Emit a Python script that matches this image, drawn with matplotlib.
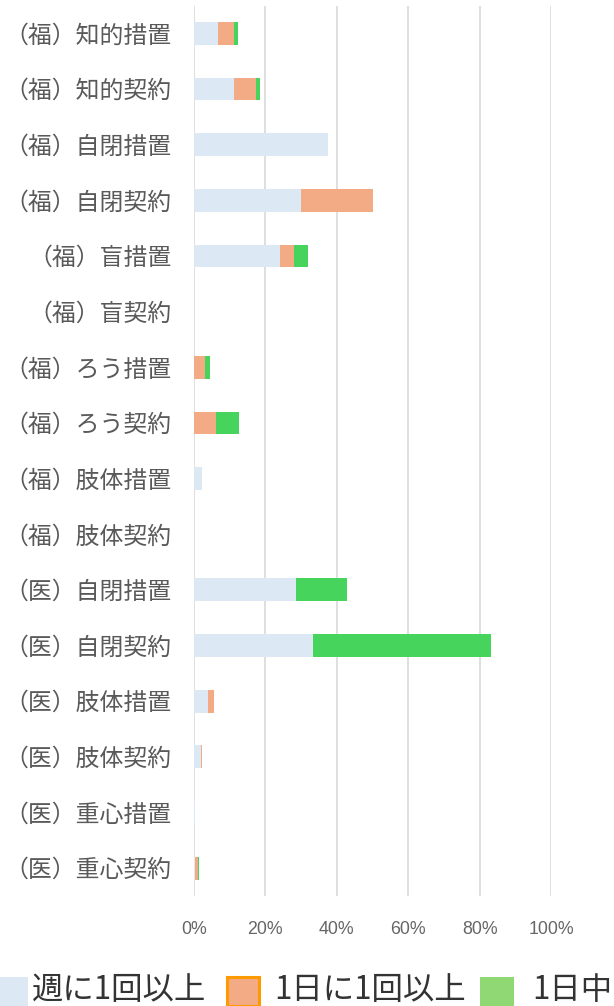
import matplotlib
matplotlib.use("Agg")
import matplotlib.pyplot as plt
from matplotlib.patches import Rectangle
import numpy as np

plt.rcParams['font.family'] = ['Noto Sans CJK JP', 'DejaVu Sans']

categories = [
    "（福）知的措置", "（福）知的契約", "（福）自閉措置", "（福）自閉契約",
    "（福）盲措置", "（福）盲契約", "（福）ろう措置", "（福）ろう契約",
    "（福）肢体措置", "（福）肢体契約", "（医）自閉措置", "（医）自閉契約",
    "（医）肢体措置", "（医）肢体契約", "（医）重心措置", "（医）重心契約",
]
series_names = ["週に1回以上", "1日に1回以上", "1日中"]
weekly = [6.8, 11.2, 37.4, 30.0, 24.0, 0, 0, 0, 2.3, 0, 28.5, 33.3, 3.9, 2.0, 0.2, 0.2]
daily = [4.5, 6.2, 0, 20.0, 4.0, 0, 3.1, 6.2, 0, 0, 0, 0, 1.7, 0.3, 0, 0.8]
allday = [1.1, 1.1, 0, 0, 4.0, 0, 1.3, 6.3, 0, 0, 14.3, 50.0, 0, 0, 0.2, 0.3]
x_ticks = [0, 20, 40, 60, 80, 100]
x_ticklabels = ["0%", "20%", "40%", "60%", "80%", "100%"]

bar_colors = ["#dce9f5", "#f2ab84", "#46d45c"]
legend_fill = ["#dce9f5", "#f2ab84", "#90d873"]
legend_edge = [None, "#ff9900", None]

W, H = 614, 1006
fig = plt.figure(figsize=(W / 100, H / 100), dpi=100)
ax = fig.add_axes([194 / W, (H - 896) / H, (551 - 194) / W, (896 - 5.5) / H])

y = np.arange(len(categories))
left = np.zeros(len(categories))
for vals, col in zip([weekly, daily, allday], bar_colors):
    vals = np.array(vals, dtype=float)
    ax.barh(y, vals, left=left, height=0.41, color=col, zorder=3)
    left += vals

ax.set_xlim(0, 100)
ax.set_ylim(len(categories) - 0.5, -0.5)
ax.set_yticks(y)
ax.set_yticklabels(categories, fontsize=17.2, color="#595959")
ax.set_xticks(x_ticks)
ax.set_xticklabels(x_ticklabels, fontsize=12.8, color="#666666",
                   family=['Liberation Sans', 'DejaVu Sans'])
ax.tick_params(axis='y', length=0, pad=16)
ax.tick_params(axis='x', length=0, pad=18)
ax.xaxis.grid(True, color="#d9d9d9", linewidth=1.2, zorder=0)
ax.yaxis.grid(False)
for s in ax.spines.values():
    s.set_visible(False)

# legend row drawn in figure pixels
sw = [(0, 977, 28, 29), (227, 977, 32, 29), (480, 977, 34, 29)]
tx = [32, 274, 532]
for (x0, y0, w, h), t, name, fc, ec in zip(sw, tx, series_names, legend_fill, legend_edge):
    if ec:
        r = Rectangle((x0 / W, 1 - (y0 + h) / H), w / W, h / H, transform=fig.transFigure,
                      facecolor=fc, edgecolor=ec, linewidth=2.2)
    else:
        r = Rectangle((x0 / W, 1 - (y0 + h) / H), w / W, h / H, transform=fig.transFigure,
                      facecolor=fc, edgecolor='none')
    fig.patches.append(r)
    fig.text(t / W, 1 - 990 / H, name, fontsize=22.6, color="#333333",
             ha='left', va='center')

fig.savefig("out.png", dpi=100)
